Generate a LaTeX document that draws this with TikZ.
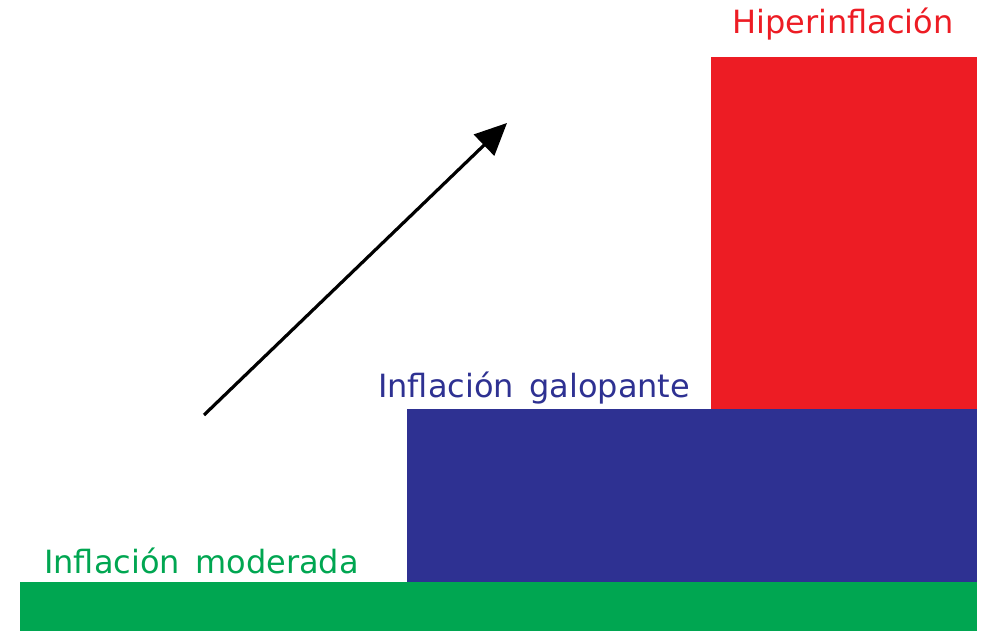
\documentclass[tikz,border=0pt]{standalone}
\usepackage{fontspec}
\setmainfont{DejaVu Sans}[WordSpace=1.5]
\usetikzlibrary{arrows.meta}
\definecolor{hred}{HTML}{ED1C24}
\definecolor{gblue}{HTML}{2E3192}
\definecolor{mgreen}{HTML}{00A651}
\tikzset{
  bar/.style={draw=none,inner sep=0pt,outer sep=0pt},
  lbl/.style={anchor=base west,inner sep=0pt,font=\fontsize{32}{38}\selectfont},
  trend/.style={line width=3.2pt,-{Triangle[length=32pt,width=29pt]}}
}
\begin{document}
\begin{tikzpicture}[x=1pt,y=-1pt]
\useasboundingbox (0,0) rectangle (987,631);
\fill[mgreen,bar] (20,582) rectangle (977,631);
\fill[gblue,bar] (407,409) rectangle (977,582);
\fill[hred,bar] (711,57) rectangle (977,409);
\node[lbl,text=hred] (hiper) at (732,34) {Hiperinflación};
\node[lbl,text=gblue] (galop) at (378,397) {Inflación galopante};
\node[lbl,text=mgreen] (moder) at (44,573) {Inflación moderada};
\coordinate (a0) at (204,415);
\coordinate (a1) at (507,123);
\draw[trend] (a0) -- (a1);
\end{tikzpicture}
\end{document}
